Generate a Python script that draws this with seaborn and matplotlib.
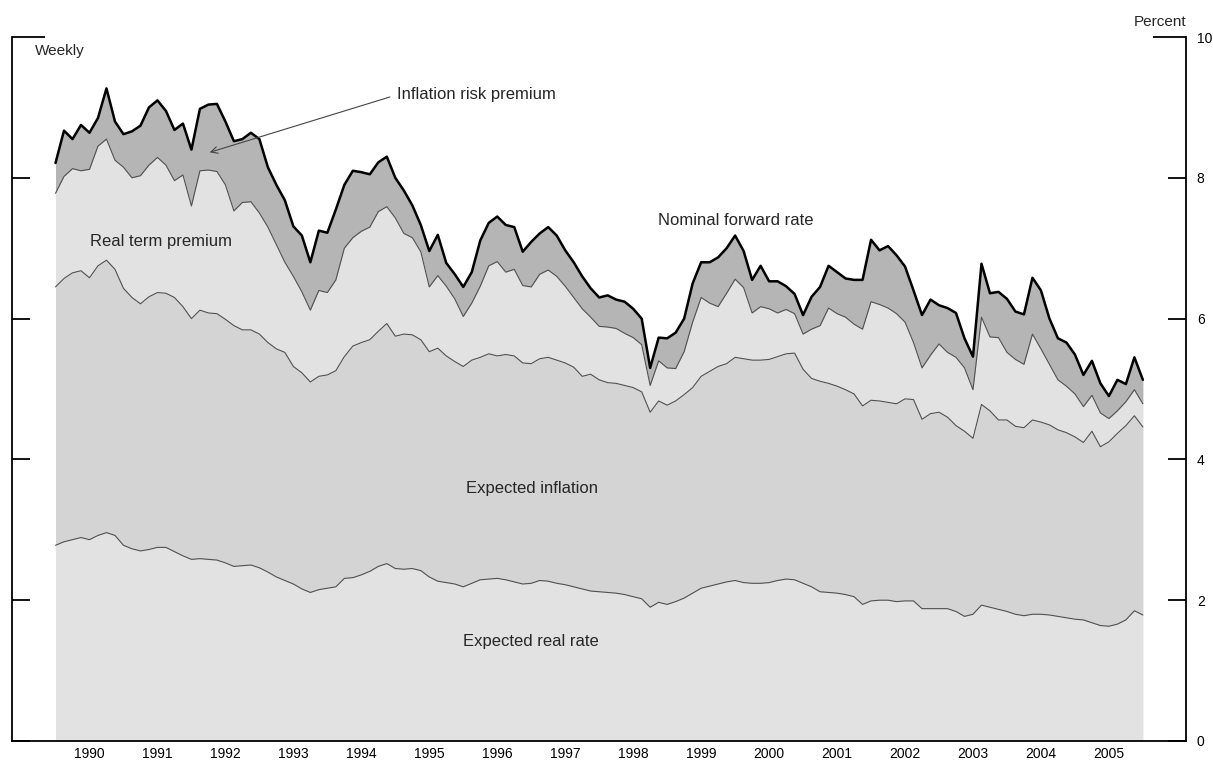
import numpy as np
import matplotlib
matplotlib.use("Agg")
import matplotlib.pyplot as plt
import seaborn as sns

# Sampled eight times a year, start of 1990 to end of 2005
dates = np.linspace(1990, 2006, 129)

# Top of "Expected real rate" layer
real_rate_top = [
    2.78, 2.83, 2.86, 2.89, 2.86, 2.92, 2.96, 2.92, 2.78, 2.73, 2.70, 2.72, 2.75, 2.75, 2.69, 2.63,
    2.58, 2.59, 2.58, 2.57, 2.53, 2.48, 2.49, 2.50, 2.46, 2.40, 2.33, 2.28, 2.23, 2.16, 2.11, 2.15,
    2.17, 2.19, 2.31, 2.32, 2.36, 2.41, 2.48, 2.52, 2.45, 2.44, 2.45, 2.42, 2.33, 2.27, 2.25, 2.23,
    2.19, 2.24, 2.29, 2.30, 2.31, 2.29, 2.26, 2.23, 2.24, 2.28, 2.27, 2.24, 2.22, 2.19, 2.16, 2.13,
    2.12, 2.11, 2.10, 2.08, 2.05, 2.02, 1.90, 1.97, 1.94, 1.98, 2.03, 2.10, 2.17, 2.20, 2.23, 2.26,
    2.28, 2.25, 2.24, 2.24, 2.25, 2.28, 2.30, 2.29, 2.24, 2.19, 2.12, 2.11, 2.10, 2.08, 2.05, 1.94,
    1.99, 2.00, 2.00, 1.98, 1.99, 1.99, 1.88, 1.88, 1.88, 1.88, 1.84, 1.77, 1.80, 1.93, 1.90, 1.87,
    1.84, 1.80, 1.78, 1.80, 1.80, 1.79, 1.77, 1.75, 1.73, 1.72, 1.68, 1.64, 1.63, 1.66, 1.72, 1.85,
    1.79,
]

# Top of "Expected inflation" layer
inflation_top = [
    6.45, 6.57, 6.65, 6.68, 6.58, 6.75, 6.83, 6.70, 6.43, 6.30, 6.21, 6.31, 6.37, 6.36, 6.30, 6.17,
    6.00, 6.12, 6.08, 6.07, 5.99, 5.90, 5.84, 5.84, 5.78, 5.66, 5.57, 5.52, 5.32, 5.23, 5.10, 5.18,
    5.20, 5.26, 5.46, 5.61, 5.66, 5.70, 5.82, 5.93, 5.75, 5.78, 5.77, 5.70, 5.53, 5.58, 5.47, 5.39,
    5.32, 5.41, 5.45, 5.50, 5.47, 5.49, 5.47, 5.37, 5.36, 5.43, 5.45, 5.41, 5.37, 5.31, 5.18, 5.21,
    5.13, 5.09, 5.08, 5.05, 5.02, 4.96, 4.67, 4.83, 4.77, 4.83, 4.92, 5.02, 5.18, 5.25, 5.32, 5.36,
    5.45, 5.43, 5.41, 5.41, 5.42, 5.46, 5.50, 5.51, 5.28, 5.15, 5.11, 5.08, 5.04, 4.99, 4.93, 4.76,
    4.84, 4.83, 4.81, 4.79, 4.86, 4.85, 4.57, 4.65, 4.67, 4.60, 4.48, 4.40, 4.30, 4.78, 4.69, 4.56,
    4.56, 4.47, 4.45, 4.56, 4.53, 4.49, 4.42, 4.38, 4.32, 4.24, 4.40, 4.18, 4.25, 4.37, 4.48, 4.62,
    4.46,
]

# Top of "Real term premium" layer
term_premium_top = [
    7.78, 8.02, 8.13, 8.10, 8.12, 8.45, 8.55, 8.25, 8.15, 8.00, 8.03, 8.18, 8.29, 8.18, 7.96, 8.04,
    7.60, 8.10, 8.11, 8.09, 7.90, 7.53, 7.65, 7.66, 7.50, 7.30, 7.05, 6.80, 6.60, 6.38, 6.12, 6.40,
    6.37, 6.55, 7.00, 7.15, 7.24, 7.30, 7.52, 7.59, 7.43, 7.21, 7.15, 6.95, 6.45, 6.61, 6.46, 6.28,
    6.03, 6.22, 6.46, 6.75, 6.81, 6.66, 6.70, 6.47, 6.45, 6.63, 6.69, 6.60, 6.46, 6.30, 6.14, 6.02,
    5.89, 5.88, 5.86, 5.79, 5.73, 5.63, 5.05, 5.40, 5.30, 5.29, 5.53, 5.95, 6.30, 6.22, 6.17, 6.36,
    6.56, 6.44, 6.08, 6.17, 6.14, 6.08, 6.13, 6.07, 5.78, 5.85, 5.90, 6.15, 6.07, 6.02, 5.92, 5.85,
    6.24, 6.20, 6.15, 6.07, 5.95, 5.66, 5.30, 5.48, 5.64, 5.52, 5.45, 5.30, 4.99, 6.02, 5.74, 5.73,
    5.52, 5.42, 5.35, 5.78, 5.57, 5.35, 5.13, 5.04, 4.93, 4.75, 4.91, 4.66, 4.58, 4.69, 4.82, 4.99,
    4.79,
]

# Nominal forward rate (top of "Inflation risk premium" layer)
nominal_forward = [
    8.21, 8.67, 8.55, 8.75, 8.64, 8.85, 9.27, 8.80, 8.62, 8.66, 8.74, 9.00, 9.10, 8.95, 8.68, 8.77,
    8.40, 8.98, 9.04, 9.05, 8.80, 8.52, 8.55, 8.64, 8.55, 8.15, 7.90, 7.68, 7.31, 7.18, 6.80, 7.25,
    7.22, 7.55, 7.90, 8.10, 8.08, 8.05, 8.22, 8.30, 8.00, 7.82, 7.61, 7.33, 6.96, 7.19, 6.79, 6.63,
    6.45, 6.66, 7.11, 7.36, 7.45, 7.33, 7.30, 6.95, 7.09, 7.21, 7.30, 7.18, 6.97, 6.80, 6.60, 6.43,
    6.30, 6.33, 6.27, 6.24, 6.14, 6.00, 5.30, 5.73, 5.72, 5.80, 6.00, 6.50, 6.80, 6.80, 6.87, 7.00,
    7.18, 6.96, 6.55, 6.75, 6.53, 6.53, 6.46, 6.35, 6.05, 6.31, 6.45, 6.75, 6.66, 6.57, 6.55, 6.55,
    7.12, 6.97, 7.03, 6.90, 6.74, 6.40, 6.05, 6.27, 6.19, 6.15, 6.08, 5.72, 5.46, 6.78, 6.36, 6.38,
    6.28, 6.10, 6.06, 6.58, 6.40, 6.00, 5.72, 5.66, 5.49, 5.20, 5.40, 5.08, 4.90, 5.13, 5.07, 5.45,
    5.13,
]

years = list(range(1990, 2006))
year_labels = [str(y) for y in years]
right_ticks = [0, 2, 4, 6, 8]

sns.set_theme(style="white")
plt.rcParams['font.family'] = ['Liberation Sans', 'DejaVu Sans']

fig = plt.figure(figsize=(12.13, 7.6), dpi=100)
ax = fig.add_axes([0.0099, 0.025, 0.9676, 0.9263])

light = '#e2e2e2'
mid = '#d4d4d4'
dark = '#b5b5b5'
ax.fill_between(dates, 0, real_rate_top, color=light, lw=0)
ax.fill_between(dates, real_rate_top, inflation_top, color=mid, lw=0)
ax.fill_between(dates, inflation_top, term_premium_top, color=light, lw=0)
ax.fill_between(dates, term_premium_top, nominal_forward, color=dark, lw=0)

for series in [real_rate_top, inflation_top, term_premium_top]:
    sns.lineplot(x=dates, y=series, ax=ax, color='#505050', lw=0.8)
sns.lineplot(x=dates, y=nominal_forward, ax=ax, color='black', lw=1.8)

ax.set_xlim(1989.36, 2006.63)
ax.set_ylim(0, 10)

# axes frame: open top, ticks pointing inward
for side in ['left', 'right', 'bottom']:
    ax.spines[side].set_visible(True)
    ax.spines[side].set_color('black')
    ax.spines[side].set_linewidth(1.3)
ax.spines['top'].set_visible(False)

ax.set_xticks(years)
ax.set_xticklabels([])
ax.set_xticks([y + 0.5 for y in years], minor=True)
ax.set_xticklabels(year_labels, minor=True)
ax.tick_params(axis='x', which='major', direction='in', length=13, width=1.3, color='black')
ax.tick_params(axis='x', which='minor', length=0, pad=4, labelsize=10, labelcolor='black')

ax.set_yticks(right_ticks)
ax.set_yticklabels([str(v) for v in right_ticks])
ax.set_yticks([10], minor=True)
ax.set_yticklabels(['10'], minor=True)
ax.tick_params(axis='y', which='both', direction='in', left=True, right=True,
               labelleft=False, labelright=True, width=1.3, color='black',
               labelsize=10, labelcolor='black', pad=8)
ax.tick_params(axis='y', which='major', length=13)
ax.tick_params(axis='y', which='minor', length=24)
ax.grid(False)

ax.text(1989.70, 9.80, 'Weekly', fontsize=11, va='center', ha='left')
ax.text(2006.64, 10.22, 'Percent', fontsize=11, va='center', ha='right', clip_on=False)

ax.text(1995.02, 9.18, 'Inflation risk premium', fontsize=12, va='center', ha='left')
ax.annotate('', xy=(1992.23, 8.35), xytext=(1994.96, 9.16),
            arrowprops=dict(arrowstyle='->', color='#444444', lw=0.8))
ax.text(1990.51, 7.10, 'Real term premium', fontsize=12, va='center', ha='left')
ax.text(1998.86, 7.40, 'Nominal forward rate', fontsize=12, va='center', ha='left')
ax.text(1996.04, 3.59, 'Expected inflation', fontsize=12, va='center', ha='left')
ax.text(1995.99, 1.42, 'Expected real rate', fontsize=12, va='center', ha='left')

fig.savefig('out.png', dpi=100)
